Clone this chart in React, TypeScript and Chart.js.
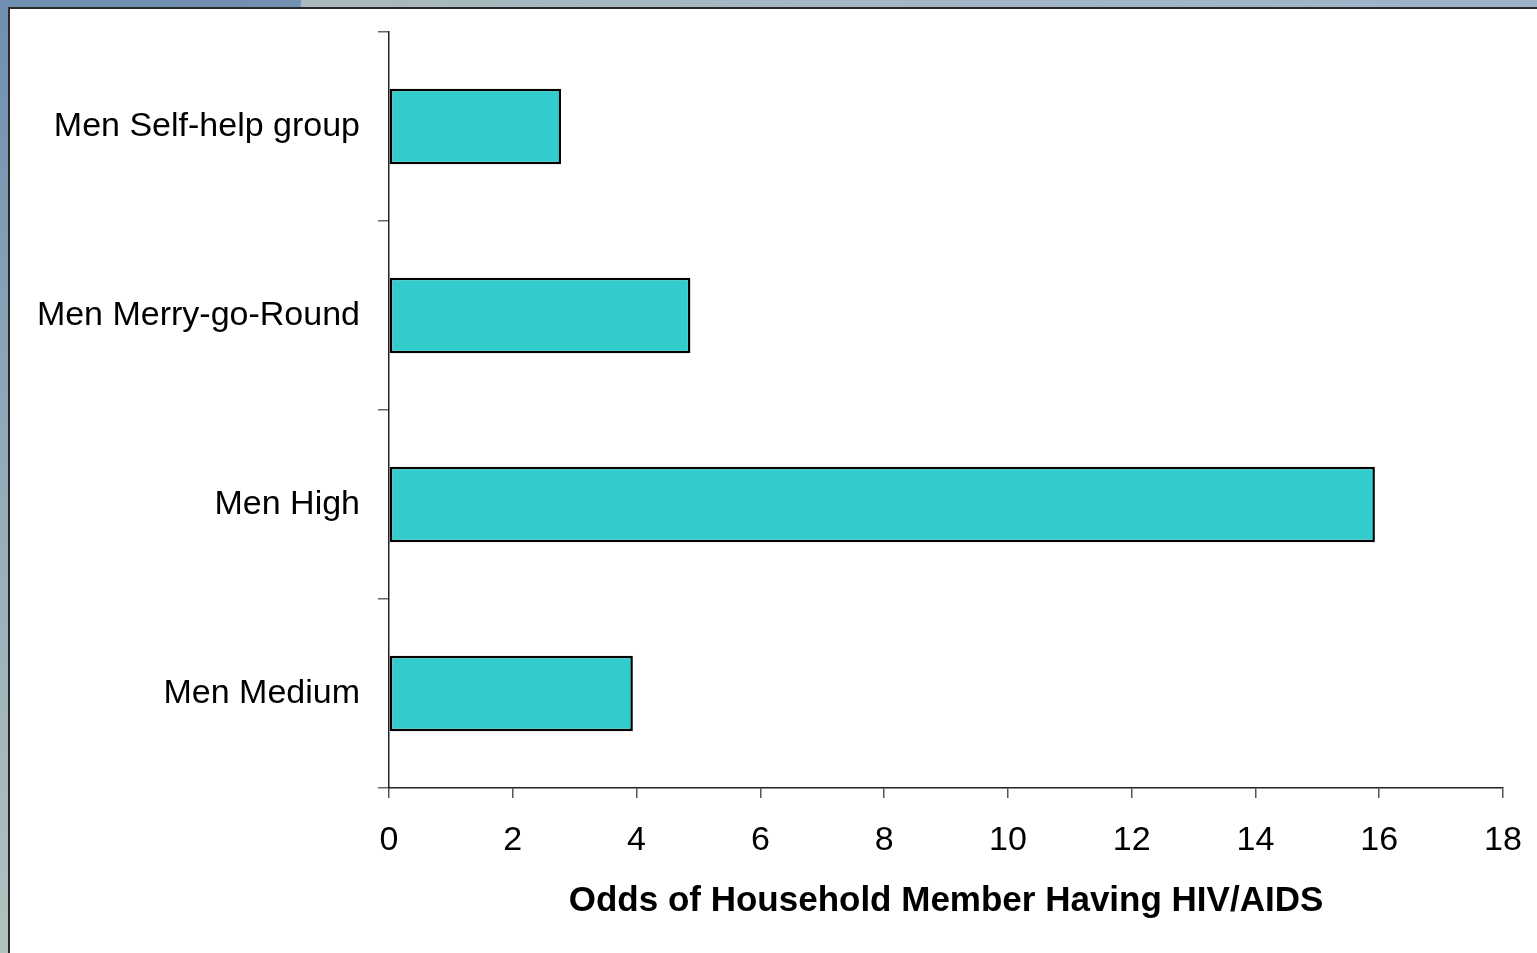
import React, { useEffect, useRef } from "react";
import { Chart, registerables } from "chart.js";

Chart.register(...registerables);

// Categories, top to bottom
const categories = ["Men Self-help group", "Men Merry-go-Round", "Men High", "Men Medium"];
// Odds ratios
const oddsValues = [2.78, 4.87, 15.93, 3.94];
// Axis range / tick labels
const xTicks = [0, 2, 4, 6, 8, 10, 12, 14, 16, 18];
const xTitle = "Odds of Household Member Having HIV/AIDS";

const FONT = "'Liberation Sans', Arial, Helvetica, sans-serif";
const CANVAS_W = 1527;
const CANVAS_H = 944;

export default function App() {
  const canvasRef = useRef<HTMLCanvasElement | null>(null);

  useEffect(() => {
    const canvas = canvasRef.current;
    if (!canvas) return;
    const chart = new Chart(canvas, {
      type: "bar",
      data: {
        labels: categories,
        datasets: [
          {
            data: oddsValues,
            backgroundColor: "#33CCCC",
            borderColor: "#000000",
            borderWidth: 2.5,
            borderSkipped: false,
            barPercentage: 0.4,
            categoryPercentage: 1.0,
          },
        ],
      },
      options: {
        indexAxis: "y",
        responsive: false,
        animation: false,
        devicePixelRatio: 1,
        layout: { padding: { top: 23, right: 34, left: 0, bottom: 0 } },
        plugins: {
          legend: { display: false },
          tooltip: { enabled: false },
        },
        scales: {
          x: {
            type: "linear",
            min: xTicks[0],
            max: xTicks[xTicks.length - 1],
            afterBuildTicks: (scale: any) => {
              scale.ticks = xTicks.map((v) => ({ value: v }));
            },
            afterFit: (scale: any) => {
              scale.height = 165;
              scale.paddingLeft = 0;
              scale.paddingRight = 0;
            },
            border: { display: true, color: "#222", width: 1.5 },
            grid: {
              drawOnChartArea: false,
              drawTicks: true,
              tickLength: 10,
              color: "#555",
              lineWidth: 1.5,
            },
            ticks: {
              color: "#000",
              padding: 22,
              font: { family: FONT, size: 34 },
            },
            title: {
              display: true,
              text: xTitle,
              color: "#000",
              font: { family: FONT, size: 35, weight: "bold" },
              padding: { top: 0, bottom: 31 },
            },
          },
          y: {
            type: "category",
            afterFit: (scale: any) => {
              scale.width = 379;
              scale.paddingTop = 0;
              scale.paddingBottom = 0;
            },
            border: { display: true, color: "#222", width: 1.5 },
            grid: {
              offset: true,
              drawOnChartArea: false,
              drawTicks: true,
              tickLength: 11,
              color: "#666",
              lineWidth: 1.5,
            },
            ticks: {
              color: "#000",
              padding: 18,
              font: { family: FONT, size: 34 },
            },
          },
        },
      },
    });
    return () => chart.destroy();
  }, []);

  return (
    <div
      style={{
        position: "absolute",
        left: 0,
        top: 0,
        width: 1537,
        height: 953,
        overflow: "hidden",
        background: "#ffffff",
      }}
    >
      {/* top frame strip */}
      <div
        style={{
          position: "absolute",
          left: 0,
          top: 0,
          width: 1537,
          height: 7,
          background:
            "linear-gradient(to right, #6e8fb0 0px, #7391b0 300px, #a9b9bd 302px, #a4b6c4 900px, #9db3c9 1537px)",
        }}
      />
      {/* left frame strip */}
      <div
        style={{
          position: "absolute",
          left: 0,
          top: 0,
          width: 8,
          height: 953,
          background: "linear-gradient(to bottom, #6e8fb0 0px, #8fa7b8 400px, #b1c3bf 953px)",
        }}
      />
      {/* white panel with dark edge */}
      <div
        style={{
          position: "absolute",
          left: 8,
          top: 7,
          width: 1529,
          height: 946,
          background: "#ffffff",
          borderLeft: "2px solid #2a2a2a",
          borderTop: "2px solid #2a2a2a",
          boxSizing: "border-box",
        }}
      >
        <canvas
          ref={canvasRef}
          width={CANVAS_W}
          height={CANVAS_H}
          style={{ position: "absolute", left: 0, top: 0, width: CANVAS_W, height: CANVAS_H }}
        />
      </div>
    </div>
  );
}
